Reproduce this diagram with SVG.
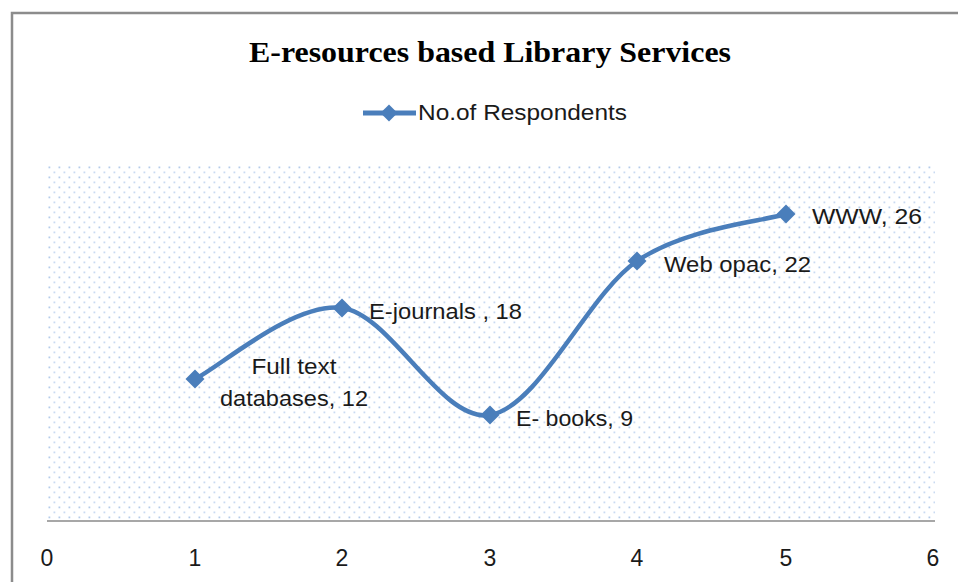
<svg xmlns="http://www.w3.org/2000/svg" width="958" height="582" viewBox="0 0 958 582">
<defs>
<pattern id="dots" x="47" y="165" width="10" height="10" patternUnits="userSpaceOnUse">
<rect x="1.5" y="1.5" width="1.8" height="1.8" fill="#b4cbea"/>
<rect x="6.5" y="6.5" width="1.8" height="1.8" fill="#c9daf1"/>
</pattern>
<path id="dia" d="M0,-9.5 L9.5,0 L0,9.5 L-9.5,0 Z"/>
</defs>
<style>
.lbl{font-family:"Liberation Sans",Arial,sans-serif;font-size:22px;fill:#1a1a1a}
.ax{font-family:"Liberation Sans",Arial,sans-serif;font-size:23px;fill:#1a1a1a;text-anchor:middle}
.mk{fill:#4a7ebb}
</style>
<rect width="958" height="582" fill="#ffffff"/>
<path d="M12,590 L12,13 L970,13" fill="none" stroke="#8c8c8c" stroke-width="2.5"/>
<g id="title">
<text x="490" y="62" text-anchor="middle" font-family="'Liberation Serif','Times New Roman',serif" font-weight="bold" font-size="29" textLength="482" lengthAdjust="spacingAndGlyphs" fill="#000">E-resources based Library Services</text>
</g>
<g id="legend">
<line x1="363" y1="113" x2="416" y2="113" stroke="#4a7ebb" stroke-width="5"/>
<use href="#dia" x="389" y="113" class="mk" transform="translate(389,113) scale(0.9) translate(-389,-113)"/>
<text x="418" y="120" class="lbl" font-size="21" textLength="209" lengthAdjust="spacingAndGlyphs">No.of Respondents</text>
</g>
<g id="plot-area">
<rect x="47" y="165" width="888" height="356" fill="url(#dots)"/>
<line x1="47" y1="521" x2="935" y2="521" stroke="#8a8a8a" stroke-width="1.5"/>
</g>
<g id="axis-labels">
<text x="47" y="566" class="ax">0</text>
<text x="195" y="566" class="ax">1</text>
<text x="342" y="566" class="ax">2</text>
<text x="490" y="566" class="ax">3</text>
<text x="637" y="566" class="ax">4</text>
<text x="786" y="566" class="ax">5</text>
<text x="933" y="566" class="ax">6</text>
</g>
<g id="connectors">
<path d="M195,379 C219.5,367.2 292.8,302 342,308 C391.2,314 440.8,422.8 490,415 C539.2,407.2 587.7,294.5 637,261 C686.3,227.5 761.2,221.8 786,214" fill="none" stroke="#4a7ebb" stroke-width="4.5" stroke-linecap="round"/>
</g>
<g id="point-1">
<use href="#dia" x="195" y="379" class="mk"/>
<text x="294" y="374" class="lbl" text-anchor="middle" textLength="85" lengthAdjust="spacingAndGlyphs">Full text</text>
<text x="294" y="406" class="lbl" text-anchor="middle" textLength="148" lengthAdjust="spacingAndGlyphs">databases, 12</text>
</g>
<g id="point-2">
<use href="#dia" x="342" y="308" class="mk"/>
<text x="369" y="319" class="lbl" textLength="153" lengthAdjust="spacingAndGlyphs">E-journals , 18</text>
</g>
<g id="point-3">
<use href="#dia" x="490" y="415" class="mk"/>
<text x="516" y="426" class="lbl" textLength="117" lengthAdjust="spacingAndGlyphs">E- books, 9</text>
</g>
<g id="point-4">
<use href="#dia" x="637" y="261" class="mk"/>
<text x="664" y="272" class="lbl" textLength="147" lengthAdjust="spacingAndGlyphs">Web opac, 22</text>
</g>
<g id="point-5">
<use href="#dia" x="786" y="214" class="mk"/>
<text x="812" y="224" class="lbl" textLength="110" lengthAdjust="spacingAndGlyphs">WWW, 26</text>
</g>
</svg>
